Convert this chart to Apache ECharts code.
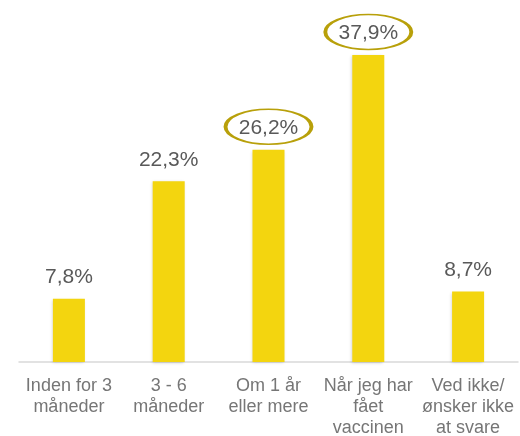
<!DOCTYPE html>
<html>
<head>
<meta charset="utf-8">
<script src="https://cdn.jsdelivr.net/npm/echarts@6/dist/echarts.min.js"></script>
<style>
  html, body { margin: 0; padding: 0; background: #fff; }
  #chart { width: 520px; height: 436px; }
</style>
</head>
<body>
<div id="chart"></div>
<script>
  // data
  var categories = ['Inden for 3\nmåneder', '3 - 6\nmåneder', 'Om 1 år\neller mere', 'Når jeg har\nfået\nvaccinen', 'Ved ikke/\nønsker ikke\nat svare'];
  var values = [7.8, 22.3, 26.2, 37.9, 8.7];
  var circled = [2, 3];

  var chart = echarts.init(document.getElementById('chart'));

  var marks = circled.map(function (i) {
    return { coord: [i, values[i]], value: values[i] };
  });

  chart.setOption({
    animation: false,
    textStyle: { fontFamily: 'Liberation Sans, Arial, sans-serif' },
    grid: { left: 19, right: 2, top: 38, bottom: 74, outerBoundsMode: 'none' },
    xAxis: {
      type: 'category',
      data: categories,
      axisLine: { lineStyle: { color: '#d9d9d9', width: 1.5 } },
      axisTick: { show: false },
      axisLabel: {
        color: '#767676',
        fontSize: 18,
        lineHeight: 21,
        margin: 14,
        interval: 0
      }
    },
    yAxis: {
      type: 'value',
      min: 0,
      max: 40,
      show: false,
      splitLine: { show: false }
    },
    series: [{
      type: 'bar',
      data: values,
      barWidth: 32,
      itemStyle: {
        color: '#f3d50f',
        shadowBlur: 3,
        shadowColor: 'rgba(0,0,0,0.18)',
        shadowOffsetX: -1,
        shadowOffsetY: 1
      },
      label: {
        show: true,
        position: 'top',
        distance: 11,
        color: '#595959',
        fontSize: 21,
        formatter: function (p) {
          return p.value.toFixed(1).replace('.', ',') + '%';
        }
      },
      markPoint: {
        symbol: 'circle',
        symbolSize: [86, 35],
        symbolOffset: [0, -23],
        silent: true,
        label: { show: false },
        itemStyle: {
          color: 'rgba(0,0,0,0)',
          borderColor: '#b8a00a',
          borderWidth: 2.5
        },
        data: marks
      }
    }]
  });
</script>
</body>
</html>
